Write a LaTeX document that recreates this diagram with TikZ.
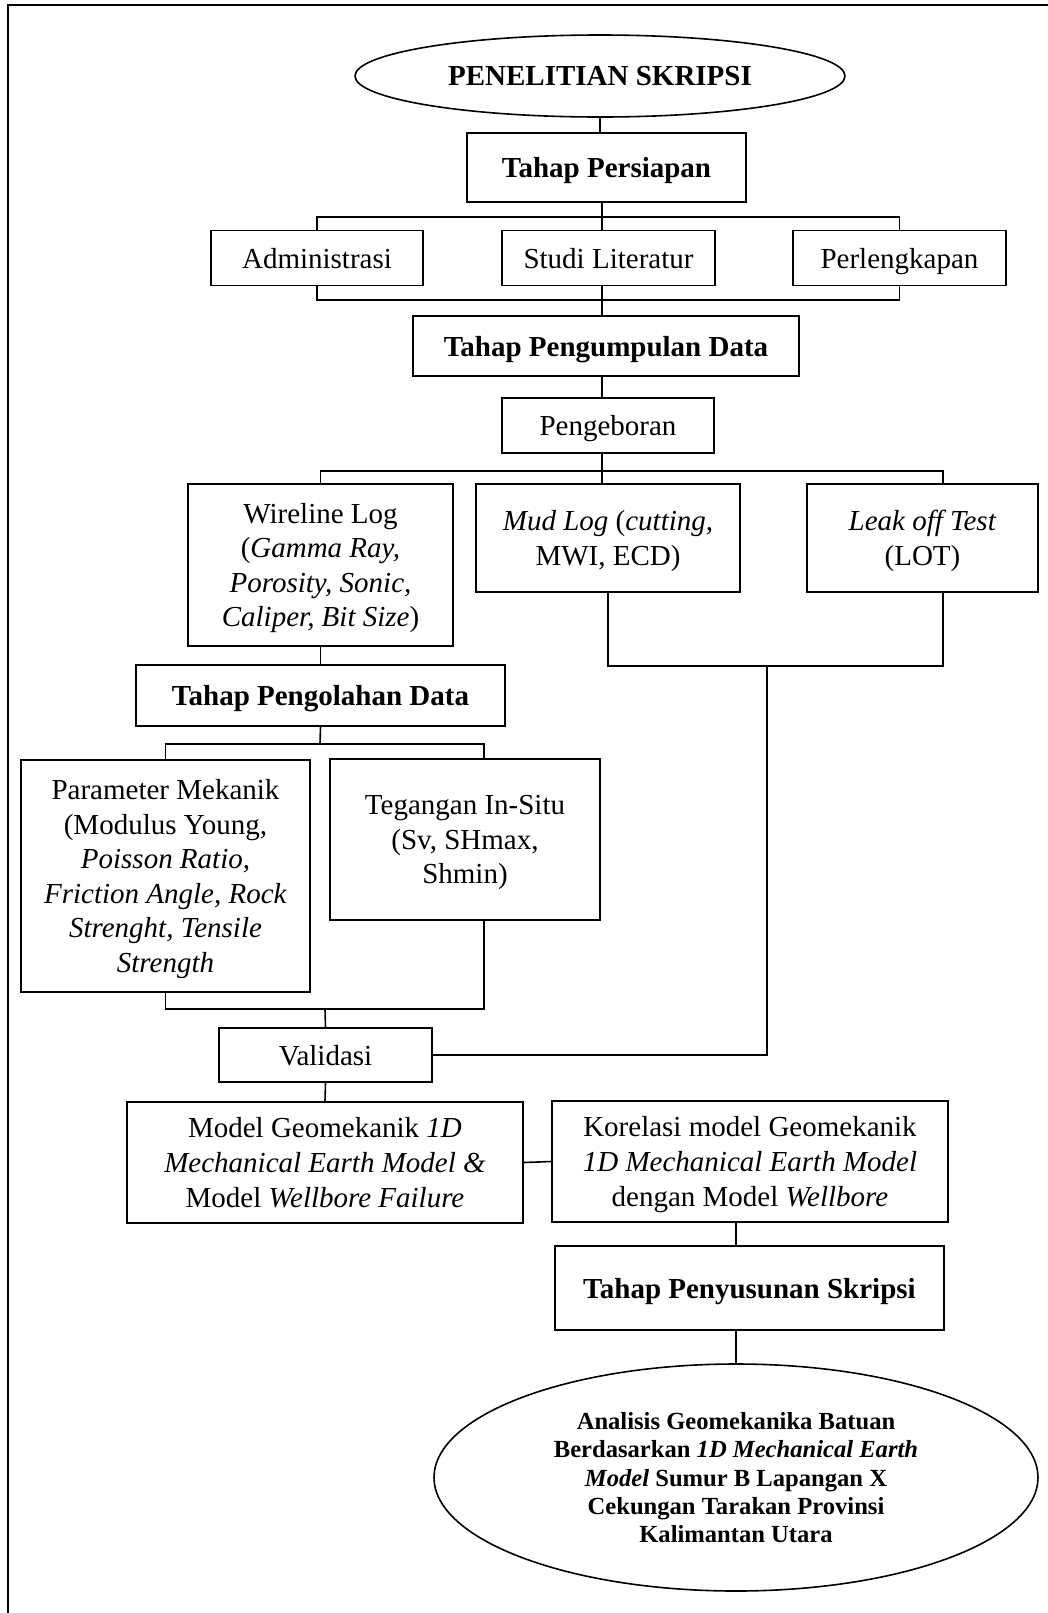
\documentclass[tikz,border=0pt]{standalone}
\usepackage{fontspec}
\setmainfont{Liberation Serif}
\usetikzlibrary{shapes.geometric}

\begin{document}
\begin{tikzpicture}[x=0.5pt,y=-0.5pt,
    kotak/.style={draw,line width=0.8pt,inner sep=0pt,align=center,text depth=0pt,font=\fontsize{14.5}{17.3}\selectfont},
    tebal/.style={font=\fontsize{14.5}{17.3}\selectfont\bfseries},
    elips/.style={draw,ellipse,line width=0.8pt,inner sep=0pt,align=center,text depth=0pt},
    garis/.style={line width=0.8pt}]
  \useasboundingbox (0,0) rectangle (1048,1613);
  \draw[line width=1pt] (8,1613) -- (8,5) -- (1048,5);

  % persiapan
  \node [elips,tebal,minimum width=245pt,minimum height=41pt] (1) at (600,76) {PENELITIAN SKRIPSI};
  \node [kotak,tebal,minimum width=139.5pt,minimum height=34.5pt] (2) at (606.5,167.5) {Tahap Persiapan};
  \node [kotak,minimum width=106pt,minimum height=27.5pt] (3) at (317,258) {Administrasi};
  \node [kotak,minimum width=106.5pt,minimum height=27.5pt] (4) at (608.5,258) {Studi Literatur};
  \node [kotak,minimum width=106.5pt,minimum height=27.5pt] (5) at (899.5,258) {Perlengkapan};

  % pengumpulan data
  \node [kotak,tebal,minimum width=193pt,minimum height=30pt] (6) at (606,346) {Tahap Pengumpulan Data};
  \node [kotak,minimum width=106pt,minimum height=27.5pt] (7) at (608,425.5) {Pengeboran};
  \node [kotak,minimum width=132.5pt,minimum height=81pt] (8) at (320.5,565) {Wireline Log\\(\textit{Gamma Ray,}\\\textit{Porosity, Sonic,}\\\textit{Caliper, Bit Size})};
  \node [kotak,minimum width=132pt,minimum height=54pt] (9) at (608,538) {\textit{Mud Log} (\textit{cutting,}\\MWI, ECD)};
  \node [kotak,minimum width=115.5pt,minimum height=54pt] (10) at (922.5,538) {\textit{Leak off Test}\\(LOT)};

  % pengolahan data
  \node [kotak,tebal,minimum width=184.5pt,minimum height=30.5pt] (11) at (320.5,695.5) {Tahap Pengolahan Data};
  \node [kotak,minimum width=144.5pt,minimum height=116pt] (12) at (165.5,876) {Parameter Mekanik\\(Modulus Young,\\\textit{Poisson Ratio},\\\textit{Friction Angle, Rock}\\\textit{Strenght, Tensile}\\\textit{Strength}};
  \node [kotak,minimum width=135pt,minimum height=80.5pt] (13) at (465,839.5) {Tegangan In-Situ\\(Sv, SHmax,\\Shmin)};
  \node [kotak,minimum width=106.5pt,minimum height=27pt] (14) at (325.5,1055) {Validasi};
  \node [kotak,minimum width=198pt,minimum height=60.5pt] (15) at (325,1162.5) {Model Geomekanik \textit{1D}\\\textit{Mechanical Earth Model \&}\\Model \textit{Wellbore Failure}};
  \node [kotak,minimum width=198pt,minimum height=60.5pt] (16) at (750,1161.5) {Korelasi model Geomekanik\\\textit{1D Mechanical Earth Model}\\dengan Model \textit{Wellbore}};

  % penyusunan
  \node [kotak,tebal,minimum width=194.5pt,minimum height=42pt] (17) at (749.5,1288) {Tahap Penyusunan Skripsi};
  \node [elips,minimum width=302pt,minimum height=113.5pt,font=\fontsize{12.3}{14.2}\selectfont\bfseries] (18) at (736,1477.5) {Analisis Geomekanika Batuan\\Berdasarkan \textit{1D Mechanical Earth}\\\textit{Model} Sumur B Lapangan X\\Cekungan Tarakan Provinsi\\Kalimantan Utara};

  % titik cabang
  \coordinate (a1) at (602,217);
  \coordinate (a2) at (602,300);
  \coordinate (a3) at (602,471);
  \coordinate (a4) at (943,471);
  \coordinate (a5) at (767,666);
  \coordinate (a6) at (320,744);
  \coordinate (a7) at (484,744);
  \coordinate (a8) at (325,1009);

  \draw[garis] (1.south) -- (1.south |- 2.north);
  \draw[garis] (2.south -| a1) -- (a1 |- 4.north);
  \draw[garis] (3.north) |- (a1) -| (5.north);
  \draw[garis] (3.south) |- (a2) -| (5.south);
  \draw[garis] (a2 |- 4.south) -- (a2 |- 6.north);
  \draw[garis] (a2 |- 6.south) -- (a2 |- 7.north);
  \draw[garis] (a3 |- 7.south) -- (a3 |- 9.north);
  \draw[garis] (8.north) |- (a4) -- (a4 |- 10.north);
  \draw[garis] (9.south) -- (9.south |- a5) -- (a4 |- a5) -- (a4 |- 10.south);
  \draw[garis] (a5) |- (14.east);
  \draw[garis] (8.south) -- (11.north);
  \draw[garis] (11.south) -- (a6);
  \draw[garis] (12.north) |- (a7) -- (a7 |- 13.north);
  \draw[garis] (12.south) |- (a7 |- a8) -- (a7 |- 13.south);
  \draw[garis] (a8) -- (14.north);
  \draw[garis] (14.south) -- (15.north);
  \draw[garis] (15.east) -- (16.west);
  \draw[garis] (18.north |- 16.south) -- (18.north |- 17.north);
  \draw[garis] (18.north |- 17.south) -- (18.north);
\end{tikzpicture}
\end{document}
